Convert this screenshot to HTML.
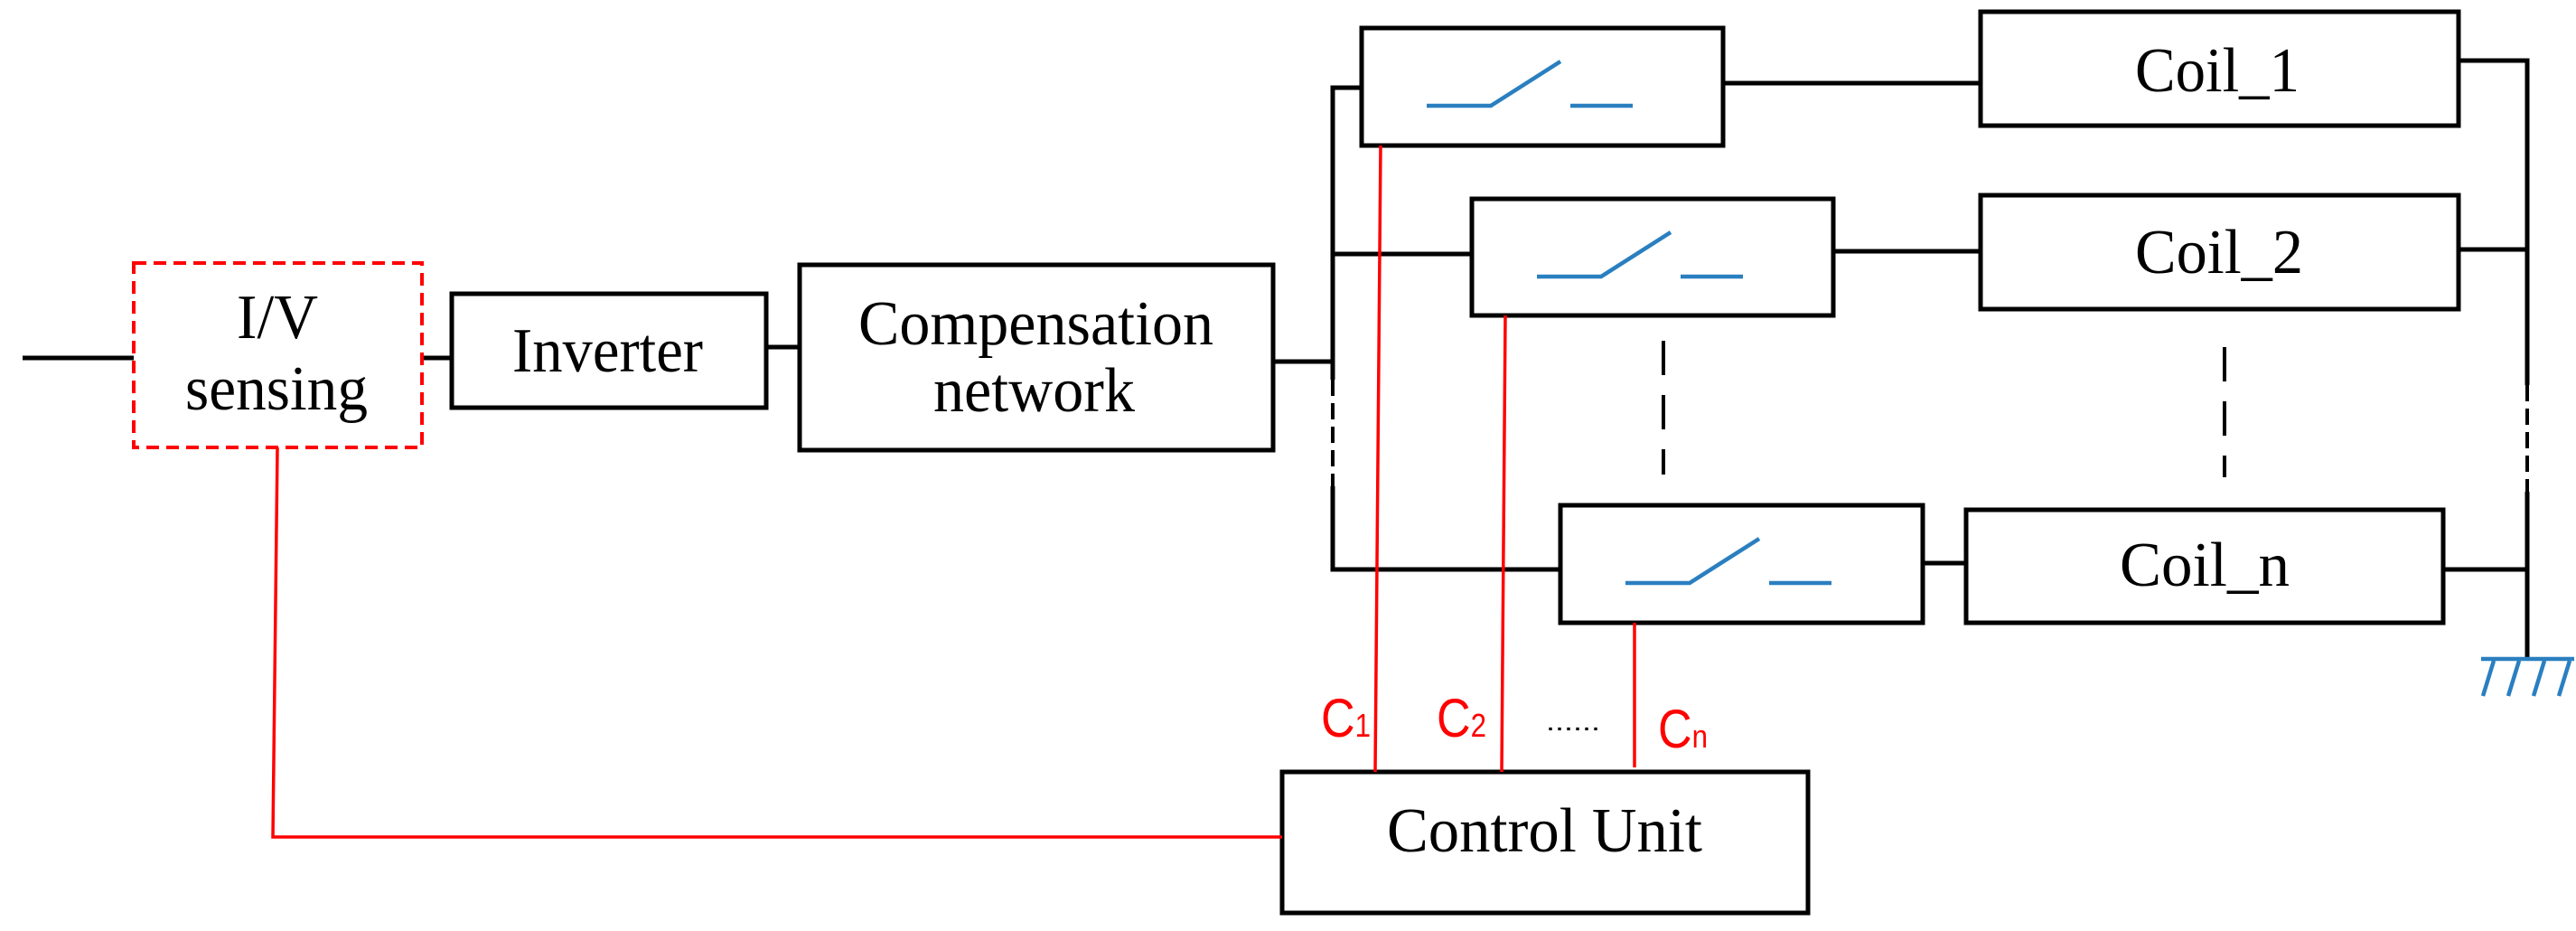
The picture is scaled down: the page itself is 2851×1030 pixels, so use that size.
<!DOCTYPE html>
<html><head><meta charset="utf-8"><style>html,body{margin:0;padding:0;background:#fff}svg{display:block}</style></head><body>
<svg width="2851" height="1030" viewBox="0 0 2851 1030" xmlns="http://www.w3.org/2000/svg">
<g fill="none" stroke="#000" stroke-width="5">
<line x1="25" y1="396" x2="148" y2="396"/>
<line x1="467" y1="396" x2="500" y2="396"/>
<line x1="848" y1="384" x2="885" y2="384"/>
<line x1="1409" y1="400" x2="1475" y2="400"/>
<rect x="500" y="325" width="348" height="126"/>
<rect x="885" y="293" width="524" height="205"/>
<polyline points="1507,97 1475,97 1475,420"/>
<line x1="1475" y1="420" x2="1475" y2="538" stroke-dasharray="18,8" stroke-width="4"/>
<polyline points="1475,538 1475,630 1727,630"/>
<line x1="1475" y1="281" x2="1629" y2="281"/>
<rect x="1507" y="31" width="400" height="130"/>
<rect x="1629" y="220" width="400" height="129"/>
<rect x="1727" y="559" width="401" height="130"/>
<rect x="2192" y="13" width="529" height="126"/>
<rect x="2192" y="216" width="529" height="126"/>
<rect x="2176" y="564" width="528" height="125"/>
<line x1="1907" y1="92" x2="2192" y2="92"/>
<line x1="2029" y1="278" x2="2192" y2="278"/>
<line x1="2128" y1="623" x2="2176" y2="623"/>
<polyline points="2721,67 2797,67 2797,426"/>
<line x1="2721" y1="276" x2="2797" y2="276"/>
<line x1="2797" y1="426" x2="2797" y2="544" stroke-dasharray="18,8" stroke-width="4"/>
<line x1="2797" y1="544" x2="2797" y2="729"/>
<line x1="2704" y1="630" x2="2797" y2="630"/>
<line x1="1841" y1="377" x2="1841" y2="525" stroke-dasharray="38,22" stroke-width="4"/>
<line x1="2462" y1="384" x2="2462" y2="528" stroke-dasharray="38,22" stroke-width="4"/>
<rect x="1419" y="854" width="582" height="156"/>
</g>
<rect x="148" y="291" width="319" height="204" fill="none" stroke="#f00" stroke-width="4" stroke-dasharray="14,8"/>
<g stroke="#f00" stroke-width="3.5" fill="none">
<polyline points="307,495 302,926 1419,926"/>
<line x1="1528" y1="161" x2="1522" y2="854"/>
<line x1="1666" y1="349" x2="1662" y2="854"/>
<line x1="1809" y1="689" x2="1809" y2="849"/>
</g>
<g stroke="#2a7fc0" stroke-width="4.5" fill="none">
<polyline points="1579,117 1650,117 1727,68"/><line x1="1738" y1="117" x2="1807" y2="117"/>
<polyline points="1701,306 1772,306 1849,257"/><line x1="1860" y1="306" x2="1929" y2="306"/>
<polyline points="1799,645 1870,645 1947,596"/><line x1="1958" y1="645" x2="2027" y2="645"/>
<line x1="2746" y1="729" x2="2849" y2="729"/>
<line x1="2760" y1="731" x2="2748" y2="770"/>
<line x1="2788" y1="731" x2="2776" y2="770"/>
<line x1="2816" y1="731" x2="2804" y2="770"/>
<line x1="2844" y1="731" x2="2832" y2="770"/>
</g>
<g font-family="Liberation Serif, serif" font-size="70" fill="#000">
<text x="262" y="374" textLength="90" lengthAdjust="spacingAndGlyphs">I/V</text>
<text x="205" y="453" textLength="202" lengthAdjust="spacingAndGlyphs">sensing</text>
<text x="567" y="411" textLength="211" lengthAdjust="spacingAndGlyphs">Inverter</text>
<text x="950" y="381" textLength="393" lengthAdjust="spacingAndGlyphs">Compensation</text>
<text x="1033" y="455" textLength="223" lengthAdjust="spacingAndGlyphs">network</text>
<text x="2363" y="101" textLength="182" lengthAdjust="spacingAndGlyphs">Coil_1</text>
<text x="2363" y="302" textLength="186" lengthAdjust="spacingAndGlyphs">Coil_2</text>
<text x="2346" y="648" textLength="188" lengthAdjust="spacingAndGlyphs">Coil_n</text>
<text x="1535" y="942" textLength="349" lengthAdjust="spacingAndGlyphs">Control Unit</text>
</g>
<g font-family="Liberation Sans, sans-serif" fill="#f00">
<text x="1462" y="815" font-size="60" textLength="55" lengthAdjust="spacingAndGlyphs">C<tspan font-size="36">1</tspan></text>
<text x="1590" y="815" font-size="60" textLength="55" lengthAdjust="spacingAndGlyphs">C<tspan font-size="36">2</tspan></text>
<text x="1835" y="827" font-size="60" textLength="55" lengthAdjust="spacingAndGlyphs">C<tspan font-size="36">n</tspan></text>
</g>
<text x="1711" y="808" font-family="Liberation Sans, sans-serif" font-size="30" fill="#000" textLength="60" lengthAdjust="spacingAndGlyphs">......</text>
</svg>
</body></html>
